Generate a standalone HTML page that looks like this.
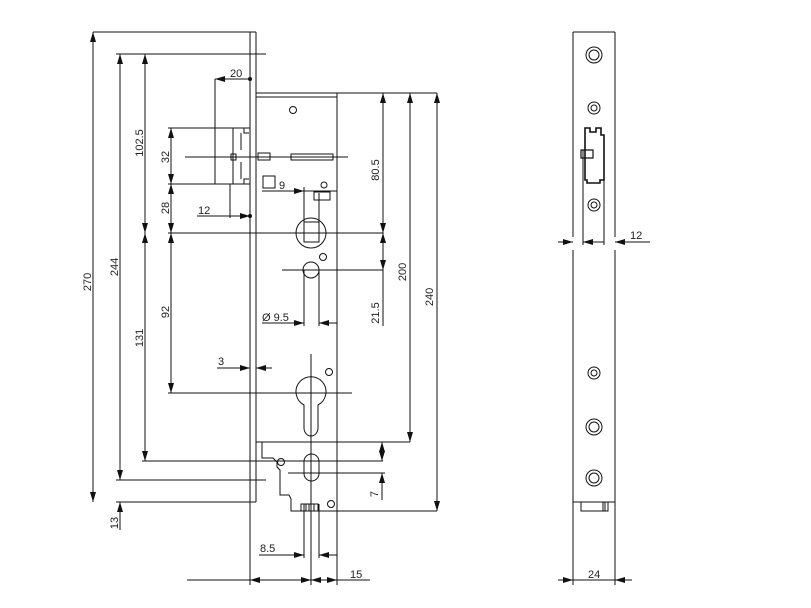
<!DOCTYPE html>
<html><head><meta charset="utf-8"><style>
html,body{margin:0;padding:0;background:#fff}
svg{display:block}
text{font-family:"Liberation Sans",sans-serif;font-size:11px;fill:#222}
</style></head><body>
<svg width="811" height="608" viewBox="0 0 811 608" xmlns="http://www.w3.org/2000/svg">
<defs>
<marker id="a" viewBox="0 0 10 6" refX="10" refY="3" markerWidth="10" markerHeight="6" orient="auto-start-reverse" markerUnits="userSpaceOnUse"><path d="M0,0L10,3L0,6z" fill="#111"/></marker>
</defs>
<g stroke="#111" stroke-width="1" fill="none">
<!-- faceplate -->
<line x1="250" y1="32" x2="250" y2="585"/>
<line x1="256" y1="32" x2="256" y2="502"/>
<line x1="93" y1="32" x2="256" y2="32"/>
<line x1="116" y1="54" x2="266" y2="54"/>
<line x1="116" y1="502" x2="256" y2="502"/>
<line x1="116" y1="480" x2="266" y2="480"/>
<line x1="142" y1="461" x2="383" y2="461"/>
<!-- case -->
<line x1="256" y1="93" x2="437" y2="93"/>
<line x1="256" y1="97" x2="337" y2="97"/>
<line x1="337" y1="93" x2="337" y2="585"/>
<line x1="256" y1="442" x2="410" y2="442"/>
<path d="M262,442V458H273L277,462V467L280,470V495H289L291,499V511H337"/>
<line x1="291" y1="511" x2="437" y2="511"/>
<!-- latch -->
<line x1="168" y1="128" x2="250" y2="128"/>
<line x1="168" y1="184" x2="250" y2="184"/>
<line x1="215" y1="79" x2="215" y2="184"/>
<path d="M233,128H244V133H249M233,184H244V179H249M233,128V184M241,133V150M241,162V179"/>
<line x1="185" y1="157" x2="348" y2="157"/>
<rect x="231" y="154" width="5" height="6"/>
<rect x="258" y="153" width="12" height="7"/>
<rect x="291" y="154" width="42" height="6"/>
<line x1="230" y1="184" x2="230" y2="218"/>
<!-- follower etc -->
<circle cx="293" cy="110" r="3.5"/>
<rect x="263" y="176" width="12" height="12"/>
<circle cx="324" cy="185" r="3"/>
<rect x="314" y="192" width="16" height="8"/>
<line x1="304" y1="187" x2="304" y2="240"/>
<line x1="319" y1="193" x2="319" y2="240"/>
<circle cx="311" cy="233" r="15"/>
<rect x="304" y="222" width="15" height="20"/>
<line x1="168" y1="233" x2="383" y2="233"/>
<circle cx="323" cy="257" r="3.5"/>
<circle cx="311" cy="270" r="8"/>
<line x1="282" y1="270" x2="383" y2="270"/>
<line x1="304" y1="270" x2="304" y2="326"/>
<line x1="319" y1="270" x2="319" y2="326"/>
<!-- cylinder -->
<line x1="311" y1="354" x2="311" y2="585"/>
<path d="M304,405A15,15 0 1 1 318,405V428A7,8 0 0 1 304,428Z"/>
<line x1="168" y1="393" x2="352" y2="393"/>
<circle cx="329" cy="372" r="3.5"/>
<rect x="304" y="454" width="15" height="27" rx="7.5"/>
<line x1="288" y1="473" x2="385" y2="473"/>
<circle cx="281" cy="462" r="3.5"/>
<circle cx="331" cy="504" r="3.5"/>
<rect x="301" y="504" width="17" height="7"/>
<line x1="304" y1="504" x2="304" y2="558"/>
<line x1="319" y1="504" x2="319" y2="558"/>
<line x1="306" y1="504" x2="306" y2="511"/><line x1="309" y1="504" x2="309" y2="511"/><line x1="314" y1="504" x2="314" y2="511"/>
</g>
<g stroke="#111" stroke-width="1" fill="none">
<!-- dimension lines -->
<line x1="93" y1="32" x2="93" y2="502" marker-start="url(#a)" marker-end="url(#a)"/>
<line x1="120" y1="54" x2="120" y2="480" marker-start="url(#a)" marker-end="url(#a)"/>
<line x1="145" y1="54" x2="145" y2="233" marker-start="url(#a)" marker-end="url(#a)"/>
<line x1="145" y1="233" x2="145" y2="461" marker-start="url(#a)" marker-end="url(#a)"/>
<line x1="171" y1="128" x2="171" y2="184" marker-start="url(#a)" marker-end="url(#a)"/>
<line x1="171" y1="184" x2="171" y2="233" marker-start="url(#a)" marker-end="url(#a)"/>
<line x1="171" y1="233" x2="171" y2="393" marker-start="url(#a)" marker-end="url(#a)"/>
<line x1="120" y1="530" x2="120" y2="502" marker-end="url(#a)"/>
<line x1="250" y1="79" x2="215" y2="79" marker-end="url(#a)"/>
<line x1="197" y1="216" x2="250" y2="216" marker-end="url(#a)"/>
<line x1="262" y1="191" x2="304" y2="191" marker-end="url(#a)"/>
<line x1="304" y1="191" x2="337" y2="191"/>
<line x1="383" y1="93" x2="383" y2="233" marker-start="url(#a)" marker-end="url(#a)"/>
<line x1="383" y1="233" x2="383" y2="270" marker-start="url(#a)" marker-end="url(#a)"/>
<line x1="383" y1="270" x2="383" y2="326"/>
<line x1="410" y1="93" x2="410" y2="442" marker-start="url(#a)" marker-end="url(#a)"/>
<line x1="437" y1="93" x2="437" y2="511" marker-start="url(#a)" marker-end="url(#a)"/>
<line x1="262" y1="323" x2="304" y2="323" marker-end="url(#a)"/>
<line x1="337" y1="323" x2="319" y2="323" marker-end="url(#a)"/>
<line x1="217" y1="368" x2="250" y2="368" marker-end="url(#a)"/>
<line x1="272" y1="368" x2="256" y2="368" marker-end="url(#a)"/>
<line x1="382" y1="442" x2="382" y2="461" marker-start="url(#a)" marker-end="url(#a)"/>
<line x1="382" y1="473" x2="382" y2="500" marker-start="url(#a)"/>
<line x1="259" y1="555" x2="304" y2="555" marker-end="url(#a)"/>
<line x1="337" y1="555" x2="319" y2="555" marker-end="url(#a)"/>
<line x1="187" y1="580" x2="370" y2="580"/>
<line x1="270" y1="580" x2="250" y2="580" marker-end="url(#a)"/>
<line x1="290" y1="580" x2="311" y2="580" marker-end="url(#a)"/>
<line x1="330" y1="580" x2="311" y2="580" marker-end="url(#a)"/>
<line x1="320" y1="580" x2="337" y2="580" marker-end="url(#a)"/>
</g>
<g fill="#111"><circle cx="250" cy="79" r="2"/><circle cx="250" cy="216" r="2"/></g>
<text x="230" y="77">20</text>
<text x="198" y="214">12</text>
<text x="279" y="189">9</text>
<text x="262" y="321">Ø 9.5</text>
<text x="218" y="365">3</text>
<text x="260" y="552">8.5</text>
<text x="350" y="578">15</text>
<g>
<text transform="translate(91,282) rotate(-90)" text-anchor="middle">270</text>
<text transform="translate(118,267) rotate(-90)" text-anchor="middle">244</text>
<text transform="translate(118,523) rotate(-90)" text-anchor="middle">13</text>
<text transform="translate(143,143) rotate(-90)" text-anchor="middle">102.5</text>
<text transform="translate(143,338) rotate(-90)" text-anchor="middle">131</text>
<text transform="translate(169,157) rotate(-90)" text-anchor="middle">32</text>
<text transform="translate(169,208) rotate(-90)" text-anchor="middle">28</text>
<text transform="translate(169,312) rotate(-90)" text-anchor="middle">92</text>
<text transform="translate(379,170) rotate(-90)" text-anchor="middle">80.5</text>
<text transform="translate(379,313) rotate(-90)" text-anchor="middle">21.5</text>
<text transform="translate(406,272) rotate(-90)" text-anchor="middle">200</text>
<text transform="translate(433,297) rotate(-90)" text-anchor="middle">240</text>
<text transform="translate(378,494) rotate(-90)" text-anchor="middle">7</text>
</g>
<!-- side view -->
<g stroke="#111" stroke-width="1" fill="none">
<line x1="573" y1="32" x2="615" y2="32"/>
<line x1="573" y1="32" x2="573" y2="237"/>
<line x1="615" y1="32" x2="615" y2="237"/>
<line x1="573" y1="250" x2="573" y2="585"/>
<line x1="615" y1="250" x2="615" y2="585"/>
<line x1="573" y1="502" x2="615" y2="502"/>
<rect x="581" y="502" width="27" height="9"/>
<line x1="603" y1="502" x2="603" y2="511"/><line x1="605" y1="502" x2="605" y2="511"/>
<circle cx="594" cy="55" r="8"/><circle cx="594" cy="55" r="5"/>
<circle cx="594" cy="108" r="6"/><circle cx="594" cy="108" r="3"/>
<circle cx="594" cy="205" r="6"/><circle cx="594" cy="205" r="3"/>
<circle cx="594" cy="373" r="6"/><circle cx="594" cy="373" r="3"/>
<circle cx="594" cy="427" r="8"/><circle cx="594" cy="427" r="5"/>
<circle cx="594" cy="478" r="8"/><circle cx="594" cy="478" r="5"/>
<path d="M585,128H590V132H596V128H601V135H604V180H600V183H587V180H585Z" stroke-width="1.6"/>
<path d="M581,150H593V158H581Z" stroke-width="1.2"/>
<line x1="583" y1="150" x2="583" y2="245"/>
<line x1="604" y1="150" x2="604" y2="245"/>
<line x1="558" y1="242" x2="573" y2="242" marker-end="url(#a)"/>
<line x1="604" y1="242" x2="583" y2="242" marker-end="url(#a)"/>
<line x1="630" y1="242" x2="615" y2="242" marker-end="url(#a)"/>
<line x1="615" y1="242" x2="650" y2="242"/>
<line x1="558" y1="580" x2="573" y2="580" marker-end="url(#a)"/>
<line x1="573" y1="580" x2="615" y2="580"/>
<line x1="632" y1="580" x2="615" y2="580" marker-end="url(#a)"/>
</g>
<text x="630" y="239">12</text>
<text x="588" y="578">24</text>
</svg>
</body></html>
